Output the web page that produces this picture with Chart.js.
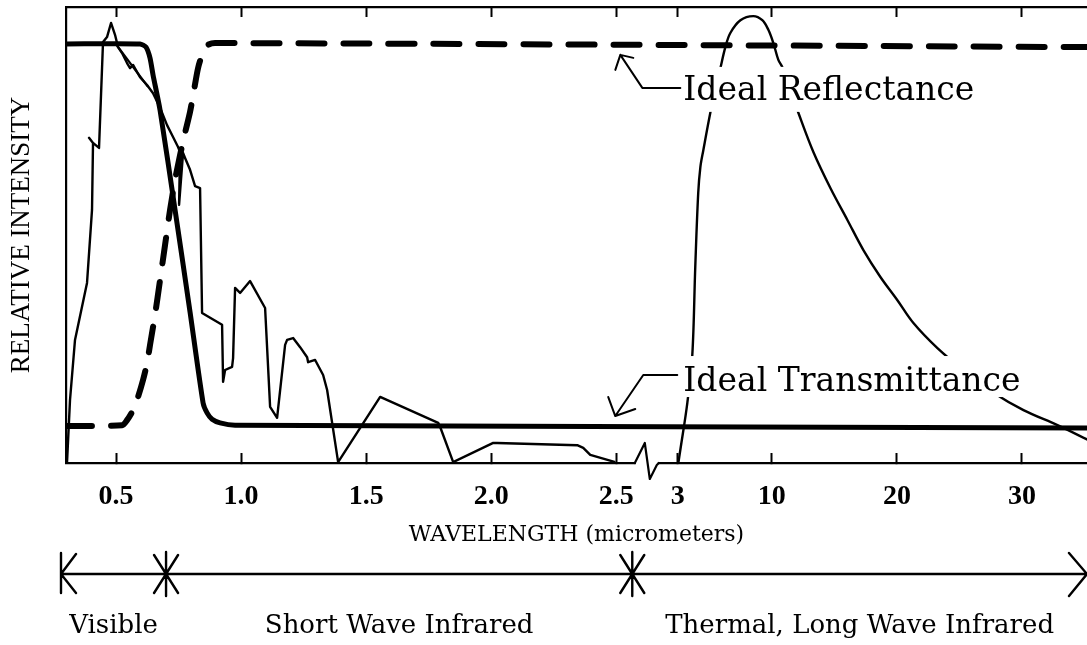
<!DOCTYPE html>
<html>
<head>
<meta charset="utf-8">
<script src="https://cdn.jsdelivr.net/npm/chart.js@4.4.1/dist/chart.umd.min.js"></script>
<style>
  html, body { margin: 0; padding: 0; background: #fff; overflow: hidden; }
  #wrap { width: 1087px; height: 645px; position: relative; }
</style>
</head>
<body>
<div id="wrap"><canvas id="spectrum"></canvas></div>
<script>
// Wavelengths in micrometers, intensities on a relative 0-100 scale.
const solarWavelength = [0.304, 0.316, 0.336, 0.384, 0.404, 0.408, 0.392, 0.408, 0.432, 0.448, 0.464, 0.48, 0.496, 0.508, 0.524, 0.544, 0.556, 0.568, 0.596, 0.624, 0.648, 0.676, 0.704, 0.728, 0.748, 0.756, 0.752, 0.768, 0.776, 0.796, 0.816, 0.836, 0.844, 0.924, 0.928, 0.936, 0.964, 0.968, 0.976, 0.996, 1.036, 1.096, 1.116, 1.144, 1.176, 1.184, 1.208, 1.236, 1.264, 1.268, 1.296, 1.328, 1.344, 1.388, 1.556, 1.788, 1.796, 1.848, 2.008, 2.024, 2.344, 2.368, 2.396, 2.496];
const solarIntensity = [0, 13.8, 27.0, 39.5, 55.5, 70.2, 71.3, 70.2, 69.1, 92.3, 93.4, 96.5, 93.9, 91.2, 89.9, 87.7, 86.6, 87.3, 84.6, 82.9, 81.1, 77.9, 74.1, 71.5, 69.3, 68.2, 56.6, 68.0, 66.9, 64.3, 60.7, 60.3, 32.9, 30.3, 17.8, 20.4, 21.1, 23.0, 38.4, 37.3, 39.9, 34.0, 12.3, 9.9, 25.9, 27.0, 27.4, 25.4, 23.2, 22.1, 22.6, 19.3, 16.0, 0.2, 14.5, 8.8, 7.9, 0.2, 4.4, 4.4, 3.9, 3.3, 1.8, 0.2];
const solarBranchWavelength = [0.496, 0.628];
const solarBranchIntensity = [92.1, 82.5];

const thermalWavelength = [3.04, 3.19, 3.71, 4.08, 4.30, 4.52, 4.68, 4.90, 5.42, 5.79, 6.17, 6.54, 6.91, 7.66, 8.62, 9.29, 9.74, 10.12, 10.52, 10.84, 11.48, 12.12, 13.32, 14.68, 16.04, 17.32, 18.68, 20.04, 21.32, 23.24, 25.48, 27.72, 30.12, 32.84, 35.48];
const thermalIntensity = [0, 2.9, 13.2, 23.7, 43.0, 59.2, 64.9, 68.6, 76.8, 81.8, 86.6, 91.2, 94.3, 97.1, 98.0, 97.1, 95.0, 92.1, 88.4, 86.8, 81.8, 76.8, 68.2, 60.3, 53.3, 46.7, 40.8, 35.7, 30.7, 25.2, 20.0, 15.4, 11.6, 8.3, 4.8];

const reflectanceWavelength = [0.30, 0.524, 0.544, 0.568, 0.588, 0.608, 0.624, 0.636, 0.656, 0.676, 0.696, 0.716, 0.736, 0.756, 0.776, 0.796, 0.812, 0.828, 0.848, 0.868, 0.896, 35.5];
const reflectanceIntensity = [8.1, 8.3, 9.4, 11.6, 14.5, 18.2, 21.9, 25.9, 32.5, 40.1, 47.8, 55.5, 62.1, 67.5, 72.4, 77.0, 81.8, 86.6, 90.1, 91.7, 92.1, 91.2];

const transmittanceWavelength = [0.30, 0.596, 0.62, 0.636, 0.648, 0.676, 0.736, 0.796, 0.848, 0.864, 0.884, 0.916, 0.976, 35.5];
const transmittanceIntensity = [91.9, 91.9, 91.2, 88.8, 85.1, 77.4, 55.5, 33.1, 13.2, 11.0, 9.6, 8.8, 8.3, 7.7];

const tickWavelengths = [0.5, 1.0, 1.5, 2.0, 2.5, 3, 10, 20, 30];
const tickLabels = ['0.5', '1.0', '1.5', '2.0', '2.5', '3', '10', '20', '30'];

const regionBounds = [0.28, 0.7, 2.63];
const regionNames = ['Visible', 'Short Wave Infrared', 'Thermal, Long Wave Infrared'];

const axisStartWavelength = 0.3;
const axisEndWavelength = 35.2;
const axisBreakWavelength = 2.74;

// The wavelength axis is linear up to 2.5 um, then compressed past a break,
// with a coarser scale for the thermal band.
function axisPos(w) {
  if (w <= 2.5) return w;
  if (w <= 3) return 2.5 + (w - 2.5) * 0.492;
  if (w <= 10) return 2.746 + (w - 3) * (0.376 / 7);
  return 3.122 + (w - 10) * 0.05;
}

function toPoints(ws, vs) {
  return ws.map((w, i) => ({ x: axisPos(w), y: vs[i] }));
}

const INK = '#000';

// Callout labels with leader arrows; anchors are in data units, geometry in pixels.
const callouts = [
  { text: 'Ideal Reflectance', wavelength: 2.533, intensity: 89.5,
    shaft: [22, 33], run: 38, headA: [-5, 15], headB: [13, 3], textDx: 63, textDy: 45,
    clearTop: 33, clearBottom: 12 },
  { text: 'Ideal Transmittance', wavelength: 2.496, intensity: 10.3,
    shaft: [28, -41], run: 34, headA: [-7, -19], headB: [20, -7], textDx: 68, textDy: -25,
    clearTop: 35, clearBottom: 6 }
];

const decorations = {
  id: 'decorations',
  afterDatasetsDraw(chart) {
    const { ctx } = chart;
    const xs = chart.scales.x, ys = chart.scales.y;
    ctx.save();
    ctx.strokeStyle = INK;
    ctx.fillStyle = INK;
    ctx.lineCap = 'round';
    ctx.lineJoin = 'round';
    ctx.font = '33px "DejaVu Serif"';
    ctx.textBaseline = 'alphabetic';
    for (const c of callouts) {
      const tx = xs.getPixelForValue(axisPos(c.wavelength));
      const ty = ys.getPixelForValue(c.intensity);
      const lx = tx + c.textDx, ly = ty + c.textDy;
      const w = ctx.measureText(c.text).width;
      ctx.fillStyle = '#fff';
      ctx.fillRect(lx - 4, ly - c.clearTop, w + 8, c.clearTop + c.clearBottom);
      ctx.fillStyle = INK;
      ctx.fillText(c.text, lx, ly);
      ctx.lineWidth = 2;
      ctx.beginPath();
      ctx.moveTo(tx + c.shaft[0] + c.run, ty + c.shaft[1]);
      ctx.lineTo(tx + c.shaft[0], ty + c.shaft[1]);
      ctx.lineTo(tx, ty);
      ctx.moveTo(tx + c.headA[0], ty + c.headA[1]);
      ctx.lineTo(tx, ty);
      ctx.lineTo(tx + c.headB[0], ty + c.headB[1]);
      ctx.stroke();
    }
    ctx.restore();
  },
  afterDraw(chart) {
    const { ctx, chartArea } = chart;
    const xs = chart.scales.x;
    const X = w => xs.getPixelForValue(axisPos(w));
    ctx.save();
    ctx.strokeStyle = INK;
    ctx.fillStyle = INK;
    ctx.lineCap = 'round';
    ctx.lineJoin = 'round';

    // break in the wavelength axis
    const bx = X(axisBreakWavelength), by = chartArea.bottom;
    ctx.fillStyle = '#fff';
    ctx.fillRect(bx - 10, by - 3, 22, 6);
    ctx.lineWidth = 2.2;
    ctx.beginPath();
    ctx.moveTo(bx - 11, by);
    ctx.lineTo(bx - 1, by - 20);
    ctx.lineTo(bx + 4, by + 16);
    ctx.lineTo(bx + 11, by + 2);
    ctx.lineTo(bx + 13, by);
    ctx.stroke();

    // spectral band ruler below the axis
    const ry = 574;
    const x0 = X(regionBounds[0]);
    const xEnd = chartArea.right;
    ctx.lineWidth = 2.4;
    ctx.beginPath();
    ctx.moveTo(x0, ry);
    ctx.lineTo(xEnd, ry);
    // left end: bar with arrowhead
    ctx.moveTo(x0, ry - 21); ctx.lineTo(x0, ry + 19);
    ctx.moveTo(x0 + 15, ry - 20); ctx.lineTo(x0, ry); ctx.lineTo(x0 + 15, ry + 19);
    // right end arrowhead
    ctx.moveTo(xEnd - 18, ry - 21); ctx.lineTo(xEnd, ry); ctx.lineTo(xEnd - 18, ry + 22);
    // boundary stars
    for (let i = 1; i < regionBounds.length; i++) {
      const sx = X(regionBounds[i]);
      ctx.moveTo(sx, ry - 22); ctx.lineTo(sx, ry + 22);
      ctx.moveTo(sx - 12, ry - 19); ctx.lineTo(sx + 12, ry + 19);
      ctx.moveTo(sx + 12, ry - 19); ctx.lineTo(sx - 12, ry + 19);
    }
    ctx.stroke();

    // band names
    ctx.fillStyle = INK;
    ctx.font = '26px "DejaVu Serif"';
    ctx.textAlign = 'center';
    ctx.textBaseline = 'alphabetic';
    const edges = regionBounds.map(X).concat([xEnd]);
    regionNames.forEach((name, i) => {
      ctx.fillText(name, (edges[i] + edges[i + 1]) / 2, 633);
    });
    ctx.restore();
  }
};

function placeTicks(scale) {
  scale.ticks = tickWavelengths.map(w => ({ value: axisPos(w) }));
}

const xCommon = {
  type: 'linear',
  min: axisPos(axisStartWavelength),
  max: axisPos(axisEndWavelength),
  afterBuildTicks: placeTicks,
  grid: { drawOnChartArea: false, drawTicks: true, tickLength: -10, tickWidth: 2, tickColor: INK },
  border: { display: true, width: 2.2, color: INK }
};

new Chart(document.getElementById('spectrum'), {
  type: 'line',
  data: {
    datasets: [
      { label: 'Ideal Reflectance', data: toPoints(reflectanceWavelength, reflectanceIntensity),
        borderColor: INK, borderWidth: 6, borderDash: [26, 19], borderCapStyle: 'round',
        pointRadius: 0, tension: 0.25 },
      { label: 'Ideal Transmittance', data: toPoints(transmittanceWavelength, transmittanceIntensity),
        borderColor: INK, borderWidth: 5, borderJoinStyle: 'round', pointRadius: 0, tension: 0.2 },
      { label: 'Reflected solar', data: toPoints(solarWavelength, solarIntensity),
        borderColor: INK, borderWidth: 2.4, borderJoinStyle: 'round', pointRadius: 0, tension: 0 },
      { label: 'Reflected solar branch', data: toPoints(solarBranchWavelength, solarBranchIntensity),
        borderColor: INK, borderWidth: 2.2, pointRadius: 0, tension: 0 },
      { label: 'Thermal emission', data: toPoints(thermalWavelength, thermalIntensity),
        borderColor: INK, borderWidth: 2.4, pointRadius: 0, tension: 0.35 }
    ]
  },
  options: {
    responsive: true,
    maintainAspectRatio: false,
    animation: false,
    devicePixelRatio: 1,
    layout: { padding: 0 },
    plugins: { legend: { display: false }, tooltip: { enabled: false } },
    scales: {
      x: Object.assign({}, xCommon, {
        position: 'bottom',
        ticks: {
          autoSkip: false, maxRotation: 0, minRotation: 0, padding: 27, color: INK,
          font: { family: 'Liberation Serif', size: 28, weight: 'bold' },
          callback: (v, i) => tickLabels[i]
        },
        title: {
          display: true, text: 'WAVELENGTH (micrometers)', color: INK,
          font: { family: 'DejaVu Serif', size: 22 }, padding: { top: 0, bottom: 97 }
        },
        afterFit: s => { s.height = 182; }
      }),
      xTop: Object.assign({}, xCommon, {
        position: 'top',
        ticks: { display: false },
        afterFit: s => { s.height = 7; }
      }),
      y: {
        min: 0, max: 100,
        ticks: { display: false },
        grid: { drawOnChartArea: false, drawTicks: false },
        border: { display: true, width: 2.2, color: INK },
        title: {
          display: true, text: 'RELATIVE INTENSITY', color: INK,
          font: { family: 'Liberation Serif', size: 27 }, padding: { top: 6, bottom: 0 }
        },
        afterFit: s => { s.width = 66; }
      }
    }
  },
  plugins: [decorations]
});
</script>
</body>
</html>
